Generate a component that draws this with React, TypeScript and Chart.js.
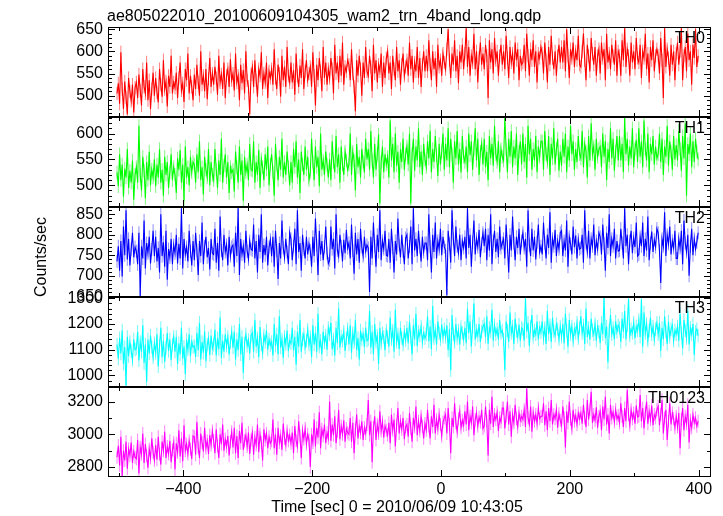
import React, { useEffect, useRef } from "react";
import { Chart, registerables } from "chart.js";

Chart.register(...registerables);

const TITLE = "ae805022010_20100609104305_wam2_trn_4band_long.qdp";
const X_LABEL = "Time [sec] 0 = 2010/06/09 10:43:05";
const Y_LABEL = "Counts/sec";

// time bins (sec): first bin centre and bin width
const BIN_START = -503;
const BIN_SIZE = 2;
const X_MIN = -517;
const X_MAX = 419;
const X_TICKS = [-400, -200, 0, 200, 400];
const X_MINOR_STEP = 100;

const TH0 = [
  505, 528, 482, 598, 515, 470, 532, 496, 458, 540, 510, 488, 525, 462, 518,
  530, 495, 548, 512, 478, 560, 520, 505, 575, 490, 535, 470, 515, 552, 500,
  540, 508, 485, 560, 525, 498, 580, 515, 532, 476, 545, 520, 590, 505, 530,
  518, 552, 495, 540, 575, 512, 528, 486, 560, 535, 595, 505, 545, 520, 490,
  548, 515, 570, 530, 500, 600, 525, 545, 510, 560, 492, 538, 585, 520, 550,
  525, 565, 540, 502, 590, 530, 548, 515, 575, 495, 545, 560, 520, 582, 535,
  550, 512, 595, 530, 545, 490, 570, 528, 558, 505, 600, 535, 520, 458, 548,
  565, 520, 580, 535, 498, 560, 545, 598, 515, 550, 530, 575, 495, 555, 540,
  560, 525, 605, 540, 515, 570, 550, 498, 590, 535, 565, 520, 610, 545, 530,
  575, 530, 558, 502, 595, 545, 520, 568, 540, 605, 515, 555, 580, 535, 550,
  565, 520, 598, 545, 478, 570, 535, 585, 555, 510, 610, 540, 575, 525, 560,
  540, 585, 560, 505, 615, 550, 575, 530, 590, 545, 620, 525, 565, 555, 580,
  570, 535, 605, 550, 520, 465, 580, 545, 590, 560, 500, 575, 540, 610, 555,
  545, 590, 565, 510, 615, 550, 580, 530, 570, 555, 595, 520, 575, 540, 585,
  600, 550, 575, 515, 590, 560, 535, 610, 555, 580, 525, 570, 595, 545, 565,
  580, 545, 620, 560, 590, 530, 575, 555, 610, 540, 585, 520, 570, 600, 555,
  590, 555, 625, 570, 535, 600, 560, 585, 520, 615, 565, 580, 545, 595, 575,
  560, 605, 650, 580, 540, 595, 570, 625, 555, 590, 528, 600, 575, 615, 560,
  595, 652, 565, 610, 545, 590, 575, 640, 560, 600, 530, 585, 620, 570, 595,
  560, 615, 590, 495, 625, 575, 605, 550, 630, 580, 600, 545, 590, 615, 570,
  600, 560, 635, 585, 540, 610, 575, 595, 550, 620, 580, 605, 535, 590, 570,
  575, 615, 555, 640, 590, 545, 605, 580, 625, 565, 600, 530, 595, 585, 610,
  595, 550, 620, 580, 530, 610, 570, 635, 585, 560, 600, 545, 590, 615, 575,
  610, 575, 625, 555, 650, 590, 540, 605, 585, 620, 565, 600, 580, 635, 570,
  565, 600, 640, 580, 535, 615, 590, 555, 630, 595, 570, 610, 545, 590, 605,
  550, 620, 585, 605, 535, 640, 575, 595, 560, 615, 590, 570, 625, 545, 600,
  590, 545, 625, 580, 652, 565, 605, 590, 545, 620, 575, 600, 560, 630, 585,
  575, 615, 540, 600, 585, 640, 560, 595, 530, 610, 580, 625, 555, 590, 605,
  590, 550, 630, 580, 495, 652, 565, 605, 585, 545, 615, 570, 600, 535, 595,
  620, 570, 600, 652, 535, 590, 610, 555, 640, 580, 600, 525, 615, 585, 650,
  565, 590,
];

const TH1 = [
  525, 498, 560, 510, 540, 478, 532, 515, 570, 495, 528, 505, 548, 472, 520,
  535, 505, 615, 520, 490, 555, 528, 475, 545, 510, 565, 500, 530, 515, 550,
  498, 540, 515, 570, 505, 530, 480, 555, 520, 545, 495, 525, 560, 510, 535,
  520, 485, 552, 530, 568, 505, 540, 470, 575, 515, 535, 500, 555, 525, 545,
  540, 505, 560, 525, 585, 510, 535, 482, 555, 530, 515, 570, 500, 545, 520,
  510, 570, 530, 495, 548, 520, 590, 505, 538, 560, 515, 545, 485, 535, 525,
  530, 488, 565, 535, 505, 575, 520, 548, 470, 555, 525, 540, 510, 580, 530,
  528, 585, 505, 545, 520, 568, 495, 550, 535, 510, 560, 530, 575, 500, 540,
  560, 525, 480, 580, 540, 510, 555, 530, 590, 515, 545, 520, 565, 535, 500,
  545, 505, 570, 535, 585, 515, 550, 485, 565, 540, 520, 575, 530, 555, 510,
  525, 590, 545, 510, 575, 535, 555, 498, 600, 530, 548, 520, 565, 540, 515,
  550, 510, 585, 545, 525, 595, 535, 560, 505, 575, 540, 520, 565, 548, 530,
  540, 600, 520, 565, 548, 490, 580, 535, 555, 515, 570, 545, 525, 590, 550,
  570, 530, 605, 548, 515, 580, 530, 560, 598, 465, 545, 575, 525, 560, 540,
  555, 515, 625, 548, 580, 525, 600, 538, 565, 505, 570, 545, 590, 530, 560,
  575, 540, 600, 465, 560, 590, 528, 575, 548, 610, 535, 565, 520, 580, 550,
  535, 585, 552, 605, 525, 570, 545, 595, 558, 518, 580, 540, 565, 600, 530,
  580, 548, 610, 535, 590, 560, 505, 585, 552, 605, 540, 570, 525, 595, 555,
  545, 575, 525, 600, 558, 585, 530, 570, 610, 548, 590, 520, 565, 580, 540,
  590, 535, 565, 510, 595, 552, 580, 538, 615, 560, 545, 585, 525, 570, 555,
  548, 630, 570, 525, 590, 555, 605, 535, 575, 552, 600, 520, 565, 585, 540,
  600, 545, 580, 515, 615, 560, 590, 530, 570, 548, 595, 525, 575, 555, 585,
  585, 530, 605, 560, 545, 595, 520, 580, 552, 610, 540, 570, 590, 528, 565,
  538, 590, 555, 600, 525, 575, 548, 615, 560, 585, 530, 570, 545, 595, 560,
  552, 605, 535, 580, 565, 515, 595, 548, 620, 560, 575, 530, 590, 555, 570,
  575, 535, 600, 555, 585, 510, 570, 545, 610, 552, 590, 528, 565, 595, 548,
  595, 548, 580, 525, 630, 560, 590, 538, 575, 552, 610, 535, 570, 588, 545,
  610, 555, 585, 535, 625, 570, 548, 600, 525, 580, 560, 595, 540, 575, 552,
  560, 600, 545, 590, 520, 575, 555, 615, 538, 585, 565, 530, 595, 550, 578,
  548, 605, 570, 528, 595, 552, 620, 480, 580, 560, 600, 535, 585, 545, 590,
  565, 550,
];

const TH2 = [
  735, 772, 712, 785, 698, 820, 750, 860, 740, 790, 725, 765, 805, 745, 770,
  760, 728, 805, 650, 772, 742, 835, 718, 780, 755, 795, 730, 765, 810, 748,
  795, 735, 768, 708, 850, 748, 782, 722, 810, 690, 765, 745, 790, 728, 775,
  755, 800, 730, 778, 742, 865, 718, 790, 752, 770, 735, 810, 760, 725, 785,
  738, 805, 762, 702, 785, 748, 830, 728, 772, 795, 745, 768, 715, 790, 755,
  752, 815, 732, 780, 712, 845, 762, 738, 800, 758, 775, 725, 795, 748, 770,
  775, 722, 805, 748, 865, 702, 790, 752, 772, 732, 810, 760, 740, 785, 765,
  762, 825, 742, 785, 708, 800, 758, 850, 732, 775, 750, 795, 725, 770, 788,
  748, 795, 722, 810, 762, 692, 780, 742, 835, 768, 745, 790, 758, 728, 805,
  790, 738, 772, 815, 728, 860, 758, 780, 712, 800, 765, 742, 795, 752, 778,
  762, 722, 795, 748, 840, 775, 702, 810, 752, 785, 738, 770, 820, 755, 730,
  738, 820, 765, 790, 718, 850, 762, 748, 800, 772, 735, 788, 755, 812, 768,
  780, 742, 825, 762, 705, 805, 752, 790, 732, 815, 770, 748, 795, 760, 775,
  768, 660, 795, 742, 830, 772, 722, 800, 758, 860, 738, 785, 765, 810, 750,
  748, 790, 732, 815, 768, 708, 785, 752, 840, 775, 745, 800, 760, 728, 792,
  800, 742, 772, 820, 728, 865, 762, 790, 748, 810, 770, 735, 795, 758, 780,
  780, 738, 850, 772, 708, 800, 758, 830, 742, 785, 765, 815, 750, 795, 770,
  762, 652, 810, 778, 732, 860, 790, 748, 820, 772, 755, 800, 738, 785, 768,
  795, 742, 865, 768, 800, 722, 782, 835, 752, 790, 770, 812, 745, 778, 805,
  772, 815, 738, 800, 762, 850, 728, 785, 810, 758, 790, 745, 820, 768, 780,
  790, 742, 825, 772, 708, 800, 762, 845, 780, 738, 795, 768, 815, 752, 785,
  805, 768, 790, 722, 860, 775, 748, 815, 762, 795, 740, 782, 825, 758, 772,
  752, 830, 780, 742, 800, 768, 855, 732, 790, 772, 812, 748, 785, 765, 805,
  810, 748, 785, 762, 835, 722, 795, 778, 752, 820, 770, 798, 742, 788, 765,
  768, 800, 732, 860, 780, 758, 810, 742, 790, 772, 825, 750, 785, 765, 805,
  795, 752, 825, 778, 712, 805, 768, 850, 748, 790, 772, 815, 742, 785, 760,
  762, 815, 780, 742, 865, 772, 800, 728, 785, 810, 755, 792, 770, 830, 748,
  752, 795, 772, 830, 748, 790, 762, 845, 738, 780, 808, 758, 788, 770, 815,
  805, 762, 682, 790, 772, 855, 748, 800, 778, 820, 752, 785, 768, 810, 742,
  742, 790, 768, 810, 728, 835, 780, 758, 800, 700, 772, 815, 750, 790, 765,
  782, 805,
];

const TH3 = [
  1120, 1065, 1145, 1085, 1175, 1045, 1110, 960, 1150, 1075, 1130, 1095, 1060, 1140, 1100,
  1105, 1170, 1058, 1130, 1092, 1195, 1048, 1120, 975, 1140, 1085, 1155, 1110, 1070, 1125,
  1088, 1160, 1035, 1115, 1185, 1072, 1135, 1052, 1108, 1165, 1095, 1140, 1060, 1120, 1150,
  1092, 1150, 1045, 1125, 1082, 1185, 1065, 1112, 1005, 1140, 1100, 1160, 1075, 1130, 1110,
  1115, 1072, 1165, 1098, 1205, 1062, 1130, 1088, 1172, 1055, 1120, 1145, 1080, 1155, 1105,
  1120, 1178, 1078, 1145, 1102, 1225, 1068, 1135, 1092, 1160, 1115, 1150, 1082, 1130, 1168,
  1108, 1170, 1062, 1140, 1098, 1200, 1082, 1150, 1010, 1125, 1160, 1115, 1138, 1085, 1155,
  1165, 1092, 1215, 1112, 1145, 1072, 1188, 1120, 1088, 1155, 1130, 1175, 1100, 1140, 1118,
  1130, 1078, 1200, 1115, 1160, 1082, 1230, 1108, 1140, 1068, 1150, 1122, 1175, 1095, 1135,
  1125, 1185, 1098, 1150, 1042, 1170, 1112, 1215, 1092, 1140, 1160, 1108, 1135, 1178, 1120,
  1150, 1072, 1195, 1120, 1165, 1092, 1240, 1112, 1135, 1082, 1170, 1128, 1155, 1100, 1185,
  1160, 1205, 1102, 1140, 1078, 1185, 1125, 1260, 1108, 1150, 1135, 1170, 1095, 1145, 1180,
  1120, 1195, 1088, 1165, 1130, 1215, 1098, 1145, 1062, 1175, 1140, 1160, 1110, 1185, 1135,
  1140, 1250, 1108, 1170, 1082, 1200, 1130, 1155, 1045, 1185, 1125, 1165, 1150, 1098, 1175,
  1150, 1112, 1225, 1140, 1175, 1092, 1255, 1130, 1160, 1102, 1185, 1145, 1120, 1170, 1138,
  1185, 1125, 1210, 1150, 1082, 1195, 1140, 1240, 1115, 1170, 1155, 1190, 1130, 1165, 1145,
  1160, 1230, 1132, 1190, 1102, 1270, 1145, 1175, 1120, 1210, 1165, 1140, 1198, 1150, 1180,
  1150, 1195, 1098, 1180, 1020, 1235, 1160, 1130, 1200, 1145, 1175, 1120, 1188, 1165, 1140,
  1185, 1125, 1260, 1165, 1210, 1112, 1190, 1280, 1140, 1175, 1155, 1200, 1130, 1170, 1190,
  1200, 1150, 1230, 1122, 1185, 1170, 1255, 1135, 1195, 1160, 1180, 1140, 1215, 1165, 1175,
  1140, 1020, 1210, 1175, 1130, 1245, 1165, 1190, 1122, 1220, 1172, 1150, 1198, 1135, 1185,
  1180, 1135, 1300, 1170, 1205, 1115, 1190, 1235, 1150, 1175, 1160, 1210, 1140, 1185, 1168,
  1210, 1145, 1185, 1122, 1250, 1160, 1195, 1130, 1225, 1170, 1155, 1200, 1180, 1140, 1190,
  1150, 1200, 1125, 1240, 1175, 1112, 1215, 1160, 1190, 1135, 1180, 1165, 1205, 1145, 1185,
  1230, 1165, 1195, 1122, 1260, 1150, 1185, 1140, 1220, 1175, 1160, 1200, 1135, 1190, 1170,
  1125, 1205, 1160, 1303, 1145, 1190, 1050, 1175, 1235, 1160, 1185, 1140, 1210, 1170, 1195,
  1185, 1130, 1220, 1170, 1250, 1140, 1195, 1298, 1155, 1180, 1165, 1205, 1145, 1190, 1175,
  1215, 1150, 1295, 1112, 1245, 1165, 1200, 1135, 1175, 1225, 1160, 1190, 1140, 1180, 1205,
  1160, 1205, 1095, 1185, 1140, 1230, 1170, 1122, 1210, 1150, 1180, 1195, 1135, 1175, 1160,
  1190, 1135, 1240, 1165, 1105, 1215, 1175, 1145, 1250, 1120, 1185, 1160, 1200, 1080, 1170,
  1180, 1155,
];

const TH0123 = [
  2860, 2930, 2810, 2985, 2745, 2900, 2840, 2955, 2790, 2910, 2870, 2950, 2825, 2895, 2860,
  2850, 2965, 2760, 2920, 2880, 3005, 2825, 2940, 2870, 2795, 2910, 2855, 2975, 2890, 2840,
  2935, 2845, 2985, 2880, 2815, 2955, 2900, 3015, 2855, 2925, 2880, 2960, 2830, 2905, 2950,
  2785, 2945, 2890, 3025, 2865, 2975, 2835, 3055, 2900, 2940, 2880, 2960, 2910, 2850, 2990,
  2985, 2875, 3075, 2920, 2855, 3005, 2950, 2895, 3040, 2915, 2960, 2880, 2995, 2935, 3020,
  2960, 2885, 3030, 2930, 2855, 3000, 2940, 3060, 2900, 2970, 2925, 2990, 2870, 2955, 3015,
  2920, 3040, 2885, 2990, 2855, 3020, 2945, 3070, 2905, 2960, 2995, 2925, 3010, 2880, 2965,
  3010, 2875, 2980, 2935, 3060, 2890, 3000, 2950, 2840, 3030, 2965, 3005, 2915, 2985, 2945,
  2960, 3090, 2915, 3000, 2875, 3040, 2950, 2990, 2905, 3065, 2975, 2935, 3020, 2960, 2995,
  2945, 3010, 2885, 3050, 2960, 2925, 3080, 2990, 2855, 3020, 2970, 3035, 2940, 3000, 2965,
  2800, 3000, 2950, 3090, 2925, 3040, 2980, 3135, 2915, 3030, 2990, 3060, 2945, 3010, 2975,
  3200, 2960, 3060, 2995, 3110, 2945, 3020, 3150, 2970, 3050, 3000, 3085, 2955, 3035, 3010,
  3000, 3100, 2955, 3070, 2885, 3030, 3120, 2975, 3050, 3010, 3080, 2965, 3040, 3005, 3060,
  3210, 2995, 3080, 2830, 3040, 3110, 2965, 3060, 3005, 3140, 3020, 3075, 2980, 3050, 3025,
  2995, 3070, 2945, 3120, 3025, 3090, 2925, 3055, 3160, 3005, 3080, 3030, 3100, 2970, 3045,
  3060, 2985, 3130, 3035, 2955, 3100, 3045, 3170, 2995, 3080, 3020, 3110, 3050, 2975, 3065,
  3025, 3150, 3050, 2975, 3110, 3045, 3180, 3005, 3090, 3035, 3120, 3060, 2990, 3075, 3100,
  3120, 3005, 3160, 3060, 2885, 3100, 3045, 3190, 3070, 3015, 3095, 3140, 3040, 3085, 3055,
  3140, 3060, 3200, 3025, 3110, 3070, 3170, 2995, 3090, 3130, 3050, 3105, 3075, 3150, 3035,
  3050, 3170, 3080, 2870, 3150, 3065, 3230, 3045, 3120, 3090, 3135, 3020, 3100, 3075, 3160,
  3160, 3035, 3110, 3200, 3060, 3140, 2985, 3120, 3070, 3180, 3095, 3045, 3130, 3085, 3110,
  3090, 3150, 3045, 3280, 3100, 3060, 3170, 3015, 3130, 3080, 3120, 3065, 3160, 3095, 3110,
  3110, 3190, 3055, 3140, 3025, 3160, 3080, 3210, 3060, 3120, 3095, 3150, 3040, 3125, 3085,
  3055, 3170, 3100, 2920, 3140, 3070, 3200, 3090, 3035, 3150, 3080, 3115, 3060, 3130, 3095,
  3130, 3065, 3180, 3100, 3045, 3210, 3090, 3150, 3260, 3070, 3120, 3085, 3165, 3040, 3110,
  3140, 3025, 3170, 3090, 3230, 3060, 3120, 3005, 3180, 3100, 3135, 3075, 3150, 3095, 3115,
  3070, 3190, 3110, 3045, 3160, 3080, 3270, 3120, 3055, 3150, 3095, 3130, 3065, 3175, 3105,
  3110, 3240, 3080, 3160, 3035, 3130, 3200, 3065, 3140, 3090, 3175, 3055, 3120, 3100, 3150,
  3170, 3055, 3120, 3210, 3005, 3100, 3150, 2965, 3080, 3190, 3060, 3130, 3095, 3040, 3110,
  3045, 3130, 2915, 3090, 3160, 3025, 3110, 3065, 3180, 2950, 3085, 3040, 3120, 3070, 3100,
  3050, 3080,
];

// y ranges and labelled ticks for each panel
const TH0_RANGE = [452, 655];
const TH1_RANGE = [458, 632];
const TH2_RANGE = [648, 868];
const TH3_RANGE = [955, 1305];
const TH0123_RANGE = [2739, 3289];
const TH0_TICKS = [500, 550, 600, 650];
const TH1_TICKS = [500, 550, 600];
const TH2_TICKS = [650, 700, 750, 800, 850];
const TH3_TICKS = [1000, 1100, 1200, 1300];
const TH0123_TICKS = [2800, 3000, 3200];
// approximate 1-sigma error of a bin
const TH0_ERR = 15;
const TH1_ERR = 13;
const TH2_ERR = 16;
const TH3_ERR = 26;
const TH0123_ERR = 40;

const PANELS = [
  { id: "y0", name: "TH0", data: TH0, range: TH0_RANGE, ticks: TH0_TICKS, minor: 10, err: TH0_ERR, color: "#ff0000", errColor: "rgba(255,0,0,0.5)" },
  { id: "y1", name: "TH1", data: TH1, range: TH1_RANGE, ticks: TH1_TICKS, minor: 10, err: TH1_ERR, color: "#00ff00", errColor: "rgba(0,240,0,0.5)" },
  { id: "y2", name: "TH2", data: TH2, range: TH2_RANGE, ticks: TH2_TICKS, minor: 10, err: TH2_ERR, color: "#0000ff", errColor: "rgba(0,0,255,0.45)" },
  { id: "y3", name: "TH3", data: TH3, range: TH3_RANGE, ticks: TH3_TICKS, minor: 20, err: TH3_ERR, color: "#00ffff", errColor: "rgba(0,240,240,0.55)" },
  { id: "y4", name: "TH0123", data: TH0123, range: TH0123_RANGE, ticks: TH0123_TICKS, minor: 100, err: TH0123_ERR, color: "#ff00ff", errColor: "rgba(255,0,255,0.5)" },
];

const FONT = '"Liberation Sans", Arial, Helvetica, sans-serif';
const FONT_SIZE = 16;

const binTime = (i: number) => BIN_START + i * BIN_SIZE;

const qdpPlugin = {
  id: "qdpPanels",
  beforeDatasetsDraw(chart: any) {
    const ctx = chart.ctx;
    const xs = chart.scales.x;
    PANELS.forEach((p) => {
      const ys = chart.scales[p.id];
      ctx.save();
      ctx.beginPath();
      ctx.rect(xs.left, ys.top, xs.right - xs.left, ys.bottom - ys.top);
      ctx.clip();
      ctx.strokeStyle = p.errColor;
      ctx.lineWidth = 1;
      ctx.beginPath();
      p.data.forEach((v: number, i: number) => {
        const x = xs.getPixelForValue(binTime(i));
        ctx.moveTo(x, ys.getPixelForValue(v + p.err));
        ctx.lineTo(x, ys.getPixelForValue(v - p.err));
      });
      ctx.stroke();
      ctx.restore();
    });
  },
  afterDatasetsDraw(chart: any) {
    const ctx = chart.ctx;
    const xs = chart.scales.x;
    const L = xs.left;
    const R = xs.right;
    ctx.save();
    ctx.strokeStyle = "#000";
    ctx.lineWidth = 1;
    PANELS.forEach((p) => {
      const ys = chart.scales[p.id];
      const T = ys.top;
      const B = ys.bottom;
      ctx.beginPath();
      const [lo, hi] = p.range;
      const majorStep = p.ticks[1] - p.ticks[0];
      for (let v = Math.ceil(lo / p.minor) * p.minor; v <= hi; v += p.minor) {
        const r = v / majorStep;
        const major = Math.abs(r - Math.round(r)) < 1e-6;
        const len = major ? 7 : 4;
        const y = Math.round(ys.getPixelForValue(v)) + 0.5;
        ctx.moveTo(L, y);
        ctx.lineTo(L + len, y);
        ctx.moveTo(R, y);
        ctx.lineTo(R - len, y);
      }
      const xMajor = X_TICKS[1] - X_TICKS[0];
      for (let t = Math.ceil(X_MIN / X_MINOR_STEP) * X_MINOR_STEP; t <= X_MAX; t += X_MINOR_STEP) {
        const r = t / xMajor;
        const major = Math.abs(r - Math.round(r)) < 1e-6;
        const len = major ? 7 : 4;
        const x = Math.round(xs.getPixelForValue(t)) + 0.5;
        ctx.moveTo(x, T);
        ctx.lineTo(x, T + len);
        ctx.moveTo(x, B);
        ctx.lineTo(x, B - len);
      }
      ctx.stroke();
    });
    // panel frames
    ctx.lineWidth = 1;
    const topScale = chart.scales[PANELS[0].id];
    const botScale = chart.scales[PANELS[PANELS.length - 1].id];
    ctx.strokeRect(L + 0.5, topScale.top + 0.5, R - L - 1, botScale.bottom - topScale.top - 1);
    ctx.lineWidth = 2;
    PANELS.slice(1).forEach((p) => {
      const ys = chart.scales[p.id];
      ctx.beginPath();
      ctx.moveTo(L, ys.top);
      ctx.lineTo(R, ys.top);
      ctx.stroke();
    });
    // texts
    ctx.fillStyle = "#000";
    ctx.font = `${FONT_SIZE}px ${FONT}`;
    ctx.textAlign = "left";
    ctx.textBaseline = "alphabetic";
    ctx.fillText(TITLE, 107, 21);
    ctx.textAlign = "center";
    ctx.fillText(X_LABEL, 397, 512);
    PANELS.forEach((p) => {
      const ys = chart.scales[p.id];
      ctx.textAlign = "right";
      ctx.fillText(p.name, 705, ys.top + 16);
    });
    ctx.save();
    ctx.translate(42, 257);
    ctx.rotate(-Math.PI / 2);
    ctx.textAlign = "center";
    ctx.textBaseline = "middle";
    ctx.fillText(Y_LABEL, 0, 0);
    ctx.restore();
    ctx.restore();
  },
};

export default function App() {
  const ref = useRef<HTMLCanvasElement | null>(null);
  useEffect(() => {
    const canvas = ref.current;
    if (!canvas) return;
    const tickFont = { size: FONT_SIZE, family: FONT };
    const scales: any = {
      x: {
        type: "linear",
        position: "bottom",
        min: X_MIN,
        max: X_MAX,
        afterFit: (s: any) => { s.height = 39; },
        afterBuildTicks: (s: any) => { s.ticks = X_TICKS.map((v) => ({ value: v })); },
        ticks: {
          font: tickFont,
          color: "#000",
          padding: 3,
          maxRotation: 0,
          autoSkip: false,
          callback: (v: any) => String(v).replace("-", "\u2212"),
        },
        grid: { display: false, drawTicks: false },
        border: { display: false },
      },
    };
    PANELS.forEach((p, i) => {
      scales[p.id] = {
        type: "linear",
        position: "left",
        stack: "panels",
        stackWeight: 1,
        weight: PANELS.length - i,
        min: p.range[0],
        max: p.range[1],
        afterFit: (s: any) => { s.width = 108; },
        afterBuildTicks: (s: any) => { s.ticks = p.ticks.map((v) => ({ value: v })); },
        ticks: { font: tickFont, color: "#000", padding: 5, autoSkip: false, callback: (v: any) => String(v) },
        grid: { display: false, drawTicks: false },
        border: { display: false },
      };
    });
    const chart = new Chart(canvas, {
      type: "line",
      data: {
        datasets: PANELS.map((p) => ({
          label: p.name,
          yAxisID: p.id,
          xAxisID: "x",
          data: p.data.map((v: number, i: number) => ({ x: binTime(i), y: v })),
          borderColor: p.color,
          borderWidth: 1.1,
          pointRadius: 0,
          tension: 0,
          fill: false,
        })),
      },
      options: {
        animation: false,
        responsive: false,
        devicePixelRatio: 1,
        events: [],
        layout: { padding: { left: 0, top: 27, right: 12, bottom: 0 } },
        plugins: { legend: { display: false }, title: { display: false }, tooltip: { enabled: false } },
        scales,
      },
      plugins: [qdpPlugin],
    });
    return () => chart.destroy();
  }, []);
  return (
    <div style={{ position: "fixed", left: 0, top: 0, width: 723, height: 516, background: "#fff" }}>
      <canvas ref={ref} width={723} height={516} style={{ display: "block" }} />
    </div>
  );
}
